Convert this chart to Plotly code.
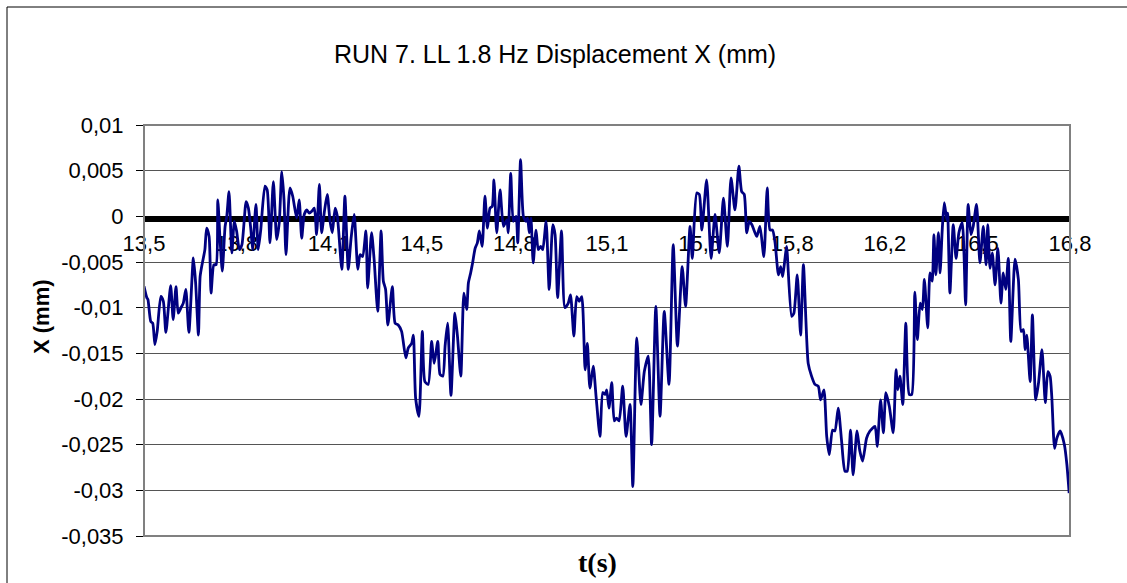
import numpy as np
import plotly.graph_objects as go

# time (s)
t = [
    13.500, 13.510, 13.514, 13.524, 13.531, 13.539, 13.547, 13.560, 13.569, 13.578,
    13.595, 13.604, 13.614, 13.622, 13.632, 13.640, 13.649, 13.660, 13.676, 13.684,
    13.694, 13.700, 13.708, 13.717, 13.723, 13.732, 13.739, 13.749, 13.757, 13.763,
    13.771, 13.779, 13.789, 13.795, 13.803, 13.813, 13.822, 13.830, 13.840, 13.849,
    13.864, 13.872, 13.881, 13.887, 13.899, 13.907, 13.916, 13.931, 13.939, 13.949,
    13.961, 13.973, 13.982, 13.991, 13.999, 14.006, 14.020, 14.030, 14.044, 14.053,
    14.062, 14.071, 14.080, 14.089, 14.098, 14.107, 14.115, 14.125, 14.133, 14.143,
    14.153, 14.163, 14.171, 14.181, 14.189, 14.205, 14.216, 14.228, 14.238, 14.249,
    14.262, 14.270, 14.279, 14.291, 14.297, 14.311, 14.320, 14.333, 14.345, 14.353,
    14.361, 14.369, 14.385, 14.395, 14.406, 14.418, 14.433, 14.442, 14.454, 14.460,
    14.468, 14.480, 14.492, 14.501, 14.513, 14.525, 14.534, 14.547, 14.555, 14.565,
    14.573, 14.582, 14.594, 14.608, 14.617, 14.629, 14.640, 14.650, 14.656, 14.664,
    14.671, 14.680, 14.688, 14.695, 14.705, 14.715, 14.724, 14.733, 14.741, 14.747,
    14.757, 14.769, 14.781, 14.793, 14.798, 14.807, 14.816, 14.826, 14.832, 14.842,
    14.852, 14.861, 14.867, 14.873, 14.879, 14.887, 14.897, 14.905, 14.914, 14.921,
    14.933, 14.944, 14.957, 14.965, 14.974, 14.988, 15.000, 15.012, 15.020, 15.032,
    15.042, 15.051, 15.060, 15.072, 15.080, 15.089, 15.101, 15.111, 15.125, 15.135,
    15.143, 15.149, 15.157, 15.167, 15.176, 15.184, 15.193, 15.206, 15.218, 15.232,
    15.242, 15.256, 15.271, 15.283, 15.297, 15.309, 15.324, 15.339, 15.354, 15.371,
    15.386, 15.401, 15.418, 15.430, 15.446, 15.454, 15.470, 15.479, 15.488, 15.505,
    15.521, 15.535, 15.550, 15.565, 15.579, 15.592, 15.606, 15.620, 15.630, 15.639,
    15.648, 15.657, 15.666, 15.675, 15.684, 15.695, 15.709, 15.721, 15.731, 15.740,
    15.749, 15.761, 15.769, 15.776, 15.784, 15.790, 15.808, 15.816, 15.828, 15.840,
    15.850, 15.867, 15.879, 15.891, 15.903, 15.911, 15.923, 15.933, 15.942, 15.954,
    15.962, 15.974, 15.986, 15.998, 16.006, 16.018, 16.027, 16.041, 16.051, 16.061,
    16.075, 16.087, 16.105, 16.113, 16.125, 16.135, 16.144, 16.156, 16.170, 16.180,
    16.186, 16.194, 16.204, 16.215, 16.227, 16.236, 16.247, 16.256, 16.266, 16.274,
    16.281, 16.293, 16.301, 16.309, 16.315, 16.322, 16.331, 16.337, 16.345, 16.352,
    16.361, 16.364, 16.372, 16.384, 16.394, 16.404, 16.416, 16.428, 16.437, 16.447,
    16.455, 16.467, 16.479, 16.491, 16.501, 16.507, 16.515, 16.523, 16.533, 16.543,
    16.554, 16.562, 16.571, 16.580, 16.589, 16.604, 16.616, 16.626, 16.634, 16.640,
    16.646, 16.658, 16.666, 16.678, 16.688, 16.700, 16.712, 16.721, 16.729, 16.735,
    16.745, 16.753, 16.765, 16.780, 16.789, 16.797,
]

# displacement X in micrometres (0.001 mm)
disp_um = [
    -7.66, -8.9, -9.1, -11.5, -11.7, -14.05, -12.6, -8.76, -9.3, -12.7,
    -7.6, -11.3, -7.7, -10.6, -10.0, -9.5, -8.0, -12.7, -4.56, -7.3,
    -13.0, -6.6, -5.1, -3.65, -1.3, -2.2, -8.4, -5.3, -5.3, 1.8,
    -2.55, -6.0, -1.1, 0.0, 2.7, -4.0, -0.55, -1.6, -3.65, -3.1,
    1.6, 0.9, -1.5, -3.65, 1.3, -3.65, -1.5, 3.3, 2.9, -2.9,
    3.8, -2.55, -0.7, 4.9, 1.8, -4.2, 3.1, 2.2, -0.2, 1.8,
    -2.4, 0.2, 0.7, 0.35, 0.55, 0.9, -2.0, 3.5, -1.8, 0.55,
    2.4, -0.55, -1.8, 0.9, 0.0, -5.8, 2.2, -5.8, -2.4, 0.2,
    -5.8, -4.2, -4.4, -1.6, -7.85, -1.8, -4.7, -10.4, -1.6, -7.1,
    -8.0, -11.9, -7.7, -11.7, -11.9, -12.6, -15.5, -14.4, -13.9, -13.0,
    -19.9, -21.9, -12.6, -18.1, -18.4, -13.7, -16.1, -13.7, -17.3, -17.5,
    -14.2, -11.7, -19.6, -10.6, -13.1, -17.5, -8.4, -10.2, -7.3, -6.2,
    -5.1, -3.5, -2.9, -1.6, -3.3, 2.2, -1.3, 0.9, 1.1, 4.0,
    -1.8, 2.9, -1.1, -0.4, -1.8, 4.7, -0.55, 0.0, -2.9, 6.2,
    0.0, -0.55, -0.2, -1.8, -0.2, -5.1, -1.5, -3.65, -3.3, -3.65,
    -0.55, -8.0, -0.9, -2.0, -8.9, -1.6, -10.0, -9.5, -8.6, -13.1,
    -8.8, -9.3, -8.8, -16.8, -13.9, -18.8, -16.4, -19.7, -24.1, -19.3,
    -19.5, -19.0, -21.0, -18.2, -22.4, -22.1, -22.4, -18.6, -24.1, -20.6,
    -29.6, -13.3, -20.6, -17.0, -15.3, -25.0, -9.85, -21.9, -10.4, -18.4,
    -3.1, -14.2, -5.5, -9.85, -1.1, -4.6, 2.55, 2.4, -1.5, 4.0,
    -4.6, 0.2, -4.0, 2.0, -3.3, 4.2, 0.7, 5.5, 2.7, 2.4,
    -1.8, -0.55, -0.9, -1.6, -2.2, -1.1, -4.4, 3.1, -1.5, -1.5,
    -2.9, -6.4, -5.5, -6.6, -4.7, -3.3, -10.95, -10.6, -6.4, -13.0,
    -5.3, -16.1, -17.5, -18.4, -18.6, -20.1, -19.0, -24.1, -26.1, -23.4,
    -23.5, -21.0, -24.6, -27.9, -27.9, -23.4, -28.3, -23.5, -25.7, -26.8,
    -24.3, -23.5, -23.0, -25.2, -20.1, -23.7, -19.3, -20.8, -23.7, -16.8,
    -19.0, -17.5, -20.6, -11.7, -19.5, -19.5, -8.3, -13.5, -9.5, -10.2,
    -6.9, -12.2, -6.2, -7.1, -2.0, -6.4, -1.8, -6.2, -1.3, 1.5,
    -0.4, 0.35, -8.4, -0.9, -4.6, -1.8, -0.7, -9.7, 1.3, -2.0,
    -1.1, 1.3, -5.1, -1.1, -5.3, -0.9, -5.7, -4.0, -7.5, -3.5,
    -9.5, -6.2, -8.0, -4.6, -13.7, -4.7, -6.9, -12.6, -12.4, -14.6,
    -13.0, -18.1, -10.8, -20.1, -18.2, -14.6, -20.4, -17.0, -17.5, -19.7,
    -25.4, -24.3, -23.5, -25.0, -27.2, -30.3,
]

x_tick_labels = ["13,5", "13,8", "14,1", "14,5", "14,8", "15,1",
                 "15,5", "15,8", "16,2", "16,5", "16,8"]
y_tick_values = [0.01, 0.005, 0.0, -0.005, -0.01, -0.015, -0.02, -0.025, -0.03, -0.035]
y_tick_labels = ["0,01", "0,005", "0", "-0,005", "-0,01", "-0,015",
                 "-0,02", "-0,025", "-0,03", "-0,035"]

assert len(t) == len(disp_um)
disp_mm = [v / 1000.0 for v in disp_um]

t_min, t_max = 13.5, 16.8
y_min, y_max = -0.035, 0.01
x_tick_vals = list(np.linspace(t_min, t_max, len(x_tick_labels)))

W, H = 1127, 583
L, R, T, B = 144, 57, 125, 47
plot_w = W - L - R
plot_h = H - T - B

fig = go.Figure()
fig.add_trace(go.Scatter(
    x=t, y=disp_mm, mode="lines",
    line=dict(color="#000080", width=2.8, shape="spline", smoothing=0.6),
    showlegend=False, hoverinfo="skip",
))

# x axis crosses the y axis at 0; thick line sits just below the 0 gridline
zero_pos = (0 - y_min) / (y_max - y_min) - 3.0 / plot_h

fig.update_layout(
    width=W, height=H,
    margin=dict(l=L, r=R, t=T, b=B, pad=0),
    paper_bgcolor="white", plot_bgcolor="white",
    separators=",.",
    font=dict(family="Liberation Sans, Arial, sans-serif", color="black", size=22),
    title=dict(
        text="RUN 7. LL 1.8 Hz Displacement X (mm)",
        x=555 / W, xref="container", xanchor="center",
        y=1 - 54 / H, yref="container", yanchor="middle",
        font=dict(size=25, color="black", family="Liberation Sans, Arial, sans-serif"),
    ),
    xaxis=dict(
        range=[t_min, t_max],
        tickvals=x_tick_vals, ticktext=x_tick_labels,
        anchor="free", position=zero_pos,
        showline=True, linecolor="black", linewidth=6,
        ticks="", showgrid=False, zeroline=False,
        layer="below traces",
        tickfont=dict(size=22, color="black"),
        ticklabelstandoff=2,
    ),
    yaxis=dict(
        range=[y_min, y_max],
        tickvals=y_tick_values, ticktext=y_tick_labels,
        ticks="outside", ticklen=7, tickcolor="black", tickwidth=1,
        showgrid=True, gridcolor="#555555", gridwidth=1,
        zeroline=False, showline=False,
        tickfont=dict(size=22, color="black"),
        ticklabelstandoff=8,
    ),
    shapes=[
        dict(type="rect", xref="paper", yref="paper", x0=0, x1=1, y0=0, y1=1,
             line=dict(color="#808080", width=2), layer="above"),
        dict(type="rect", xref="paper", yref="paper",
             x0=(7 - L) / plot_w, x1=1.3, y0=-0.5, y1=(H - B - 7) / plot_h,
             line=dict(color="black", width=1), layer="below"),
    ],
    annotations=[
        dict(text="<b>X (mm)</b>", xref="paper", yref="paper",
             x=(41 - L) / plot_w, y=(H - B - 317) / plot_h,
             xanchor="center", yanchor="middle", textangle=-90, showarrow=False,
             font=dict(size=22, color="black", family="Liberation Sans, Arial, sans-serif")),
        dict(text="<b>t(s)</b>", xref="paper", yref="paper",
             x=(597 - L) / plot_w, y=-(562 - (H - B)) / plot_h,
             xanchor="center", yanchor="middle", showarrow=False,
             font=dict(size=28, color="black", family="Liberation Serif, Times New Roman, serif")),
    ],
)

fig.write_html(
    "out.html",
    config={"displayModeBar": False},
    post_script="document.body.style.margin='0';document.body.style.overflow='hidden';",
)
